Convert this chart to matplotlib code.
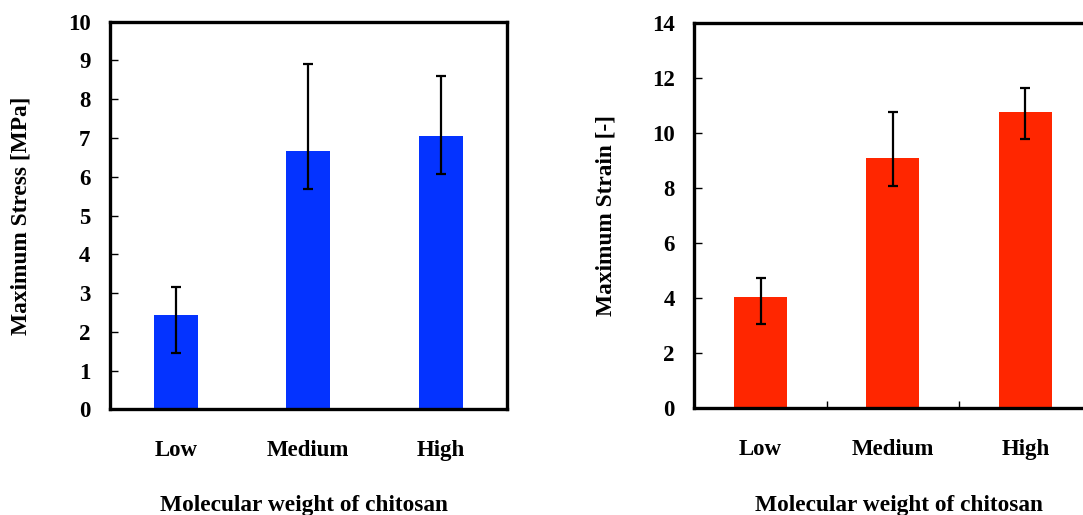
import matplotlib
matplotlib.use("Agg")
import matplotlib.pyplot as plt
from matplotlib.ticker import MultipleLocator, FixedLocator

plt.rcParams['font.family'] = 'Liberation Serif'
plt.rcParams['font.weight'] = 'bold'
plt.rcParams['axes.labelweight'] = 'bold'

categories = ['Low', 'Medium', 'High']

# Maximum stress [MPa], mean with lower / upper error
stress = [2.43, 6.67, 7.06]
stress_err_low = [0.99, 0.99, 0.99]
stress_err_high = [0.72, 2.23, 1.54]

# Maximum strain [-], mean with lower / upper error
strain = [4.06, 9.09, 10.77]
strain_err_low = [1.00, 1.00, 0.98]
strain_err_high = [0.68, 1.67, 0.86]

W, H = 1083, 515
fig = plt.figure(figsize=(W / 100, H / 100), dpi=100)


def px_axes(left, top, right, bottom):
    return fig.add_axes([left / W, 1 - bottom / H, (right - left) / W, (bottom - top) / H])


def style_axes(ax, ymax, ystep):
    for s in ax.spines.values():
        s.set_linewidth(2.4)
    ax.set_xlim(-0.5, 2.5)
    ax.set_ylim(0, ymax)
    ax.yaxis.set_major_locator(MultipleLocator(ystep))
    ax.set_xticks(range(len(categories)))
    ax.set_xticklabels(categories)
    ax.tick_params(axis='y', direction='in', length=6, width=1, pad=14, labelsize=16.5)
    ax.tick_params(axis='x', which='major', length=0, pad=22, labelsize=16.5)
    ax.tick_params(right=False, top=False)


# left panel: stress
ax1 = px_axes(110, 21.7, 506.7, 409.3)
ax1.bar(range(3), stress, width=1 / 3, color='#0433FF', zorder=2)
ax1.errorbar(range(3), stress, yerr=[stress_err_low, stress_err_high], fmt='none',
             ecolor='black', elinewidth=1.6, capsize=3.5, capthick=1.6, zorder=3)
style_axes(ax1, 10, 1)
ax1.set_ylabel('Maximum Stress [MPa]', fontsize=16.8, va='center')
ax1.yaxis.set_label_coords((21 - 110) / 396.7, 0.5)
ax1.set_xlabel('Molecular weight of chitosan', fontsize=16.8, va='center')
ax1.xaxis.set_label_coords((304 - 110) / 396.7, -(505 - 409.3) / 387.6)

# right panel: strain (runs off the right edge)
ax2 = px_axes(694.3, 23.3, 1091.5, 408.3)
ax2.bar(range(3), strain, width=0.4, color='#FF2600', zorder=2)
ax2.errorbar(range(3), strain, yerr=[strain_err_low, strain_err_high], fmt='none',
             ecolor='black', elinewidth=1.6, capsize=3.5, capthick=1.6, zorder=3)
style_axes(ax2, 14, 2)
ax2.xaxis.set_minor_locator(FixedLocator([0.5, 1.5]))
ax2.tick_params(axis='x', which='minor', direction='in', length=5, width=1)
ax2.set_ylabel('Maximum Strain [-]', fontsize=16.8, va='center')
ax2.yaxis.set_label_coords((606 - 694.3) / 397.2, 0.5)
ax2.set_xlabel('Molecular weight of chitosan', fontsize=16.8, va='center')
ax2.xaxis.set_label_coords((899 - 694.3) / 397.2, -(505 - 408.3) / 385)

fig.savefig('out.png', dpi=100)
